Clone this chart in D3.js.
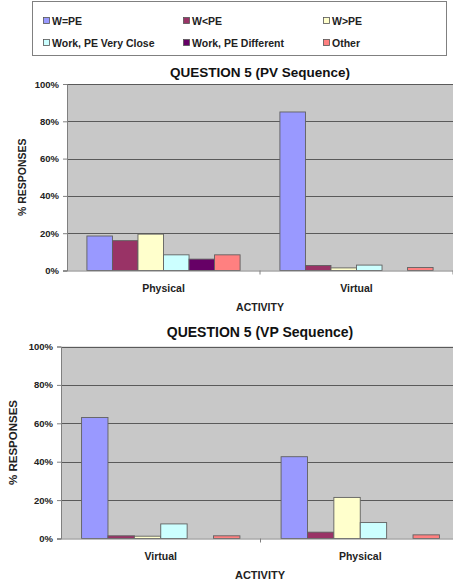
<!DOCTYPE html>
<html>
<head>
<meta charset="utf-8">
<script src="https://cdn.jsdelivr.net/npm/d3@7"></script>
<style>
  body { margin: 0; background: #fff; }
  svg { display: block; font-family: "Liberation Sans", Arial, sans-serif; }
</style>
</head>
<body>
<div id="fig"></div>
<script>
const width = 453
const height = 580

const series = ['W=PE', 'W<PE', 'W>PE', 'Work, PE Very Close', 'Work, PE Different', 'Other']
const colors = ['#9999ff', '#993366', '#ffffcc', '#ccffff', '#660066', '#ff8080']
const yTicks = [0, 20, 40, 60, 80, 100]

// first chart: Physical then Virtual
const pvCategories = ['Physical', 'Virtual']
const pvValues = [
    [18.5, 16, 19.5, 8.4, 6.1, 8.4],
    [85, 2.7, 1.4, 2.9, 0, 1.6]
]

// second chart: Virtual then Physical
const vpCategories = ['Virtual', 'Physical']
const vpValues = [
    [63, 1.4, 1.2, 7.6, 0, 1.4],
    [42.6, 3.3, 21.4, 8.3, 0, 1.9]
]

const svg = d3.select('#fig')
    .append('svg')
    .attr('width', width)
    .attr('height', height)

// legend
const legend = svg.append('g')
legend.append('rect')
    .attr('x', 32.5).attr('y', 1.5)
    .attr('width', 414).attr('height', 54)
    .attr('fill', '#fff')
    .attr('stroke', '#808080')

series.forEach(function(name, i) {
    const col = i % 3
    const row = Math.floor(i / 3)
    const lx = 43 + col * 140
    const ly = 21 + row * 22
    legend.append('rect')
        .attr('x', lx + 0.5).attr('y', ly - 3.5)
        .attr('width', 6).attr('height', 6)
        .attr('fill', colors[i])
        .attr('stroke', '#555')
        .attr('stroke-width', 0.8)
    legend.append('text')
        .attr('x', lx + 9).attr('y', ly + 3.5)
        .attr('font-size', 10.5)
        .attr('font-weight', 'bold')
        .attr('fill', '#222')
        .text(name)
})

const drawChart = function(cfg) {
    const g = svg.append('g')

    const x0 = d3.scaleBand()
        .domain(cfg.categories)
        .range([cfg.left, cfg.right])
        .padding(0)

    const x1 = d3.scaleBand()
        .domain(series)
        .range([0, x0.bandwidth()])
        .paddingInner(0)
        .paddingOuter(0.78)

    const y = d3.scaleLinear()
        .domain([0, 100])
        .range([cfg.bottom, cfg.top])

    // plot background
    g.append('rect')
        .attr('x', cfg.left).attr('y', cfg.top)
        .attr('width', Math.min(cfg.right, width) - cfg.left)
        .attr('height', cfg.bottom - cfg.top)
        .attr('fill', '#c8c8c8')

    // gridlines
    g.selectAll('.grid')
        .data(yTicks.filter(t => t > 0))
        .enter()
        .append('line')
        .attr('x1', cfg.left).attr('x2', cfg.right)
        .attr('y1', d => Math.round(y(d)) + 0.5)
        .attr('y2', d => Math.round(y(d)) + 0.5)
        .attr('stroke', '#5a5a5a')
        .attr('stroke-width', 1)

    // bars
    const groups = g.selectAll('.grp')
        .data(cfg.values)
        .enter()
        .append('g')
        .attr('transform', (d, i) => `translate(${x0(cfg.categories[i])},0)`)

    groups.selectAll('rect')
        .data(d => d.map((v, j) => ({v: v, s: series[j], c: colors[j]})))
        .enter()
        .append('rect')
        .filter(d => d.v > 0)
        .attr('x', d => x1(d.s))
        .attr('y', d => y(d.v))
        .attr('width', x1.bandwidth())
        .attr('height', d => cfg.bottom - y(d.v))
        .attr('fill', d => d.c)
        .attr('stroke', '#606060')
        .attr('stroke-width', 0.9)

    // y axis
    const yAxis = d3.axisLeft(y)
        .tickValues(yTicks)
        .tickSize(4)
        .tickPadding(4)
        .tickFormat(d => d + '%')

    g.append('g')
        .attr('transform', `translate(${cfg.left},0)`)
        .call(yAxis)
        .call(a => a.select('.domain').attr('stroke', '#808080'))
        .call(a => a.selectAll('.tick line').attr('stroke', '#808080'))
        .call(a => a.selectAll('text')
            .attr('font-family', '"Liberation Sans", Arial, sans-serif')
            .attr('font-size', 9.5)
            .attr('font-weight', 'bold')
            .attr('fill', '#222'))

    // x axis line and category divider ticks
    g.append('line')
        .attr('x1', cfg.left - 4).attr('x2', cfg.right)
        .attr('y1', cfg.bottom + 0.5).attr('y2', cfg.bottom + 0.5)
        .attr('stroke', '#808080')

    g.selectAll('.xtick')
        .data(cfg.categories)
        .enter()
        .append('line')
        .attr('x1', d => x0(d) + x0.bandwidth())
        .attr('x2', d => x0(d) + x0.bandwidth())
        .attr('y1', cfg.bottom)
        .attr('y2', cfg.bottom + 4)
        .attr('stroke', '#808080')

    g.selectAll('.xlab')
        .data(cfg.categories)
        .enter()
        .append('text')
        .attr('x', d => x0(d) + x0.bandwidth() / 2)
        .attr('y', cfg.bottom + 21)
        .attr('text-anchor', 'middle')
        .attr('font-size', 10.5)
        .attr('font-weight', 'bold')
        .attr('fill', '#222')
        .text(d => d)

    // title
    g.append('text')
        .attr('x', 260)
        .attr('y', cfg.titleY)
        .attr('text-anchor', 'middle')
        .attr('font-size', cfg.titleSize)
        .attr('font-weight', 'bold')
        .attr('fill', '#111')
        .text(cfg.title)

    // axis titles
    g.append('text')
        .attr('transform', `translate(${cfg.yLabelX},${(cfg.top + cfg.bottom) / 2}) rotate(-90)`)
        .attr('text-anchor', 'middle')
        .attr('font-size', cfg.yLabelSize)
        .attr('font-weight', 'bold')
        .attr('fill', '#222')
        .text('% RESPONSES')

    g.append('text')
        .attr('x', 260)
        .attr('y', cfg.xLabelY)
        .attr('text-anchor', 'middle')
        .attr('font-size', cfg.xLabelSize)
        .attr('font-weight', 'bold')
        .attr('fill', '#222')
        .text('ACTIVITY')
}

drawChart({
    title: 'QUESTION 5 (PV Sequence)',
    categories: pvCategories,
    values: pvValues,
    left: 67, right: 453, top: 84, bottom: 270.5,
    titleY: 76.5, titleSize: 13.5,
    yLabelX: 26, yLabelSize: 10.5,
    xLabelY: 310.5, xLabelSize: 10.5
})

drawChart({
    title: 'QUESTION 5 (VP Sequence)',
    categories: vpCategories,
    values: vpValues,
    left: 61, right: 460, top: 346.5, bottom: 538.5,
    titleY: 337, titleSize: 14,
    yLabelX: 17, yLabelSize: 11.5,
    xLabelY: 579, xLabelSize: 11
})
</script>
</body>
</html>
